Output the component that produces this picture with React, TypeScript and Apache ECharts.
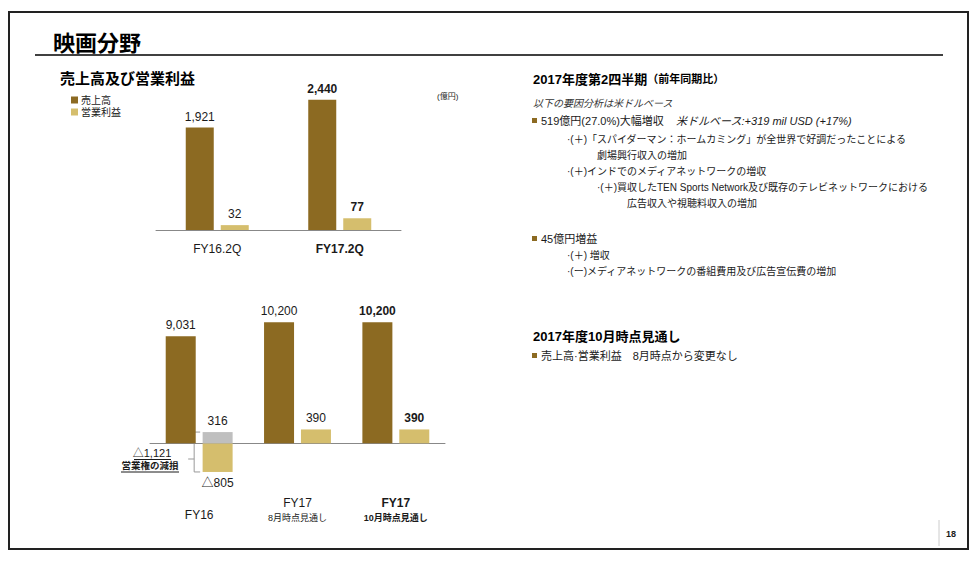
import React, { useEffect, useRef } from "react";
import * as echarts from "echarts";

// ---- data ----
const topCategories = ["FY16.2Q", "FY17.2Q"];
const topRevenue = [1921, 2440];
const topProfit = [32, 77];

const fyCategories = ["FY16", "FY17\n8月時点見通し", "FY17\n10月時点見通し"];
const fyRevenue = [9031, 10200, 10200];
const fyProfit = [-805, 390, 390];
const fyProfitBeforeImpairment = [316, null, null];
const impairmentLoss = 1121;

const legendNames = ["売上高", "営業利益"];

const FONT = "'Liberation Sans', Arial, 'Noto Sans CJK JP', sans-serif";
const BROWN = "#8C6A22";
const TAN = "#D5BE6D";
const GRAY = "#BFBFBF";
const TEXT = "#1a1a1a";

const fmt = (v: number) => (v < 0 ? "△" + Math.abs(v).toLocaleString("en-US") : v.toLocaleString("en-US"));

const withBoldLast = (arr: (number | null)[]) =>
  arr.map((v, i) =>
    v === null
      ? "-"
      : i === arr.length - 1
      ? { value: v, label: { fontWeight: "bold" } }
      : v
  );

export default function App() {
  const ref = useRef<HTMLDivElement>(null);
  useEffect(() => {
    if (!ref.current) return;
    const chart = echarts.init(ref.current, null, { renderer: "svg" });
    const labelBase = {
      show: true,
      position: "top",
      distance: 5,
      fontSize: 12,
      color: TEXT,
      fontFamily: FONT,
      formatter: (p: any) => fmt(p.value),
    };
    const option: any = {
      animation: false,
      backgroundColor: "#fff",
      textStyle: { fontFamily: FONT },
      legend: {
        data: legendNames,
        orient: "vertical",
        left: 66,
        top: 90,
        itemWidth: 7,
        itemHeight: 7,
        itemGap: 2,
        icon: "rect",
        selectedMode: false,
        textStyle: { fontSize: 10, color: TEXT, fontFamily: FONT, padding: [0, 0, 0, -2] },
      },
      grid: [
        { left: 156, width: 245, top: 70, height: 160 },
        { left: 150, width: 295, top: 301, height: 177.9 },
      ],
      xAxis: [
        {
          type: "category",
          gridIndex: 0,
          data: topCategories,
          axisLine: { lineStyle: { color: "#888", width: 1 } },
          axisTick: { show: false },
          axisLabel: {
            margin: 13,
            fontSize: 12,
            color: TEXT,
            fontFamily: FONT,
            formatter: (v: string, i: number) => (i === topCategories.length - 1 ? "{b|" + v + "}" : "{a|" + v + "}"),
            rich: {
              a: { fontSize: 12, color: TEXT, fontFamily: FONT },
              b: { fontSize: 12, color: TEXT, fontFamily: FONT, fontWeight: "bold" },
            },
          },
        },
        {
          type: "category",
          gridIndex: 1,
          data: fyCategories,
          axisLine: { onZero: true, lineStyle: { color: "#888", width: 1 } },
          axisTick: { show: false },
          axisLabel: {
            margin: 16.4,
            interval: 0,
            fontFamily: FONT,
            formatter: (v: string, i: number) => {
              const parts = v.split("\n");
              const bold = i === fyCategories.length - 1;
              if (parts.length === 1) return "{single|" + parts[0] + "}";
              return (bold ? "{ab|" : "{a|") + parts[0] + "}\n" + (bold ? "{sb|" : "{s|") + parts[1] + "}";
            },
            rich: {
              single: { fontSize: 12, lineHeight: 40, color: TEXT, fontFamily: FONT },
              a: { fontSize: 12, lineHeight: 16, color: TEXT, fontFamily: FONT },
              ab: { fontSize: 12, lineHeight: 16, color: TEXT, fontFamily: FONT, fontWeight: "bold" },
              s: { fontSize: 9, lineHeight: 14, color: TEXT, fontFamily: FONT },
              sb: { fontSize: 9, lineHeight: 14, color: TEXT, fontFamily: FONT, fontWeight: "bold" },
            },
          },
        },
      ],
      yAxis: [
        { type: "value", gridIndex: 0, min: 0, max: 3000, show: false, splitLine: { show: false } },
        { type: "value", gridIndex: 0, min: 0, max: 1050, show: false, splitLine: { show: false } },
        { type: "value", gridIndex: 1, min: -3000, max: 12000, show: false, splitLine: { show: false } },
        { type: "value", gridIndex: 1, min: -1000, max: 4000, show: false, splitLine: { show: false } },
      ],
      series: [
        {
          name: "売上高",
          type: "bar",
          xAxisIndex: 0,
          yAxisIndex: 0,
          data: withBoldLast(topRevenue),
          barWidth: 28,
          barGap: "25%",
          itemStyle: { color: BROWN },
          label: labelBase,
        },
        {
          name: "営業利益",
          type: "bar",
          xAxisIndex: 0,
          yAxisIndex: 1,
          data: withBoldLast(topProfit),
          barWidth: 28,
          barGap: "25%",
          itemStyle: { color: TAN },
          label: labelBase,
        },
        {
          name: "売上高",
          type: "bar",
          xAxisIndex: 1,
          yAxisIndex: 2,
          data: withBoldLast(fyRevenue),
          barWidth: 30,
          barGap: "23%",
          itemStyle: { color: BROWN },
          label: labelBase,
        },
        {
          name: "営業利益",
          type: "bar",
          xAxisIndex: 1,
          yAxisIndex: 3,
          stack: "op",
          data: fyProfit.map((v, i) => {
            const item: any = { value: v, label: { position: v < 0 ? "bottom" : "top" } };
            if (i === fyProfit.length - 1) item.label.fontWeight = "bold";
            return item;
          }),
          barWidth: 30,
          barGap: "23%",
          itemStyle: { color: TAN },
          label: labelBase,
        },
        {
          name: "減損前営業利益",
          type: "bar",
          xAxisIndex: 1,
          yAxisIndex: 3,
          stack: "op",
          data: fyProfitBeforeImpairment.map((v) => (v === null ? "-" : v)),
          barWidth: 30,
          barGap: "23%",
          itemStyle: { color: GRAY },
          label: labelBase,
        },
      ],
    };
    chart.setOption(option);

    // annotation for impairment bracket
    const yTop = chart.convertToPixel({ yAxisIndex: 3 } as any, fyProfitBeforeImpairment[0] as number) as number;
    const yBot = chart.convertToPixel({ yAxisIndex: 3 } as any, fyProfit[0]) as number;
    const cx = chart.convertToPixel({ xAxisIndex: 1 } as any, 0 as any) as number;
    const bx = cx - 5;

    const t = (x: number, y: number, text: string, fontSize: number, extra: any = {}) => ({
      type: "text",
      x,
      y,
      style: { text, fontSize, fill: TEXT, fontFamily: FONT, verticalAlign: "middle", align: "left", ...extra },
    });
    const bullet = (y: number) => ({ type: "rect", shape: { x: 532, y: y - 3, width: 5, height: 5 }, style: { fill: BROWN } });

    const graphic: any[] = [
      { type: "rect", shape: { x: 9, y: 12, width: 959, height: 537 }, style: { fill: "none", stroke: "#222", lineWidth: 2 } },
      t(53, 43, "映画分野", 22, { fontWeight: "bold", fill: "#000" }),
      { type: "line", shape: { x1: 35, y1: 55, x2: 943, y2: 55 }, style: { stroke: "#000", lineWidth: 1.5 } },
      t(60, 78, "売上高及び営業利益", 15, { fontWeight: "bold", fill: "#000" }),
      t(437, 96, "(億円)", 8),
      // bracket
      {
        type: "polyline",
        shape: { points: [[cx + 1, yTop], [bx, yTop], [bx, yBot], [cx + 1, yBot]] },
        style: { stroke: "#999", lineWidth: 1, fill: "none" },
      },
      { type: "line", shape: { x1: bx - 6, y1: 459, x2: bx, y2: 459 }, style: { stroke: "#999", lineWidth: 1 } },
      t(152, 453, "△" + impairmentLoss.toLocaleString("en-US"), 11, { align: "center" }),
      { type: "line", shape: { x1: 134, y1: 459.5, x2: 171, y2: 459.5 }, style: { stroke: TEXT, lineWidth: 1 } },
      t(150, 465.5, "営業権の減損", 9.5, { align: "center", fontWeight: "bold" }),
      { type: "line", shape: { x1: 121, y1: 472, x2: 179, y2: 472 }, style: { stroke: TEXT, lineWidth: 1 } },
      // right column
      {
        type: "text",
        x: 533,
        y: 79,
        style: {
          text: "{a|2017年度第2四半期}{b|（前年同期比）}",
          verticalAlign: "middle",
          rich: {
            a: { fontSize: 13, fontWeight: "bold", fill: "#000", fontFamily: FONT },
            b: { fontSize: 11, fontWeight: "bold", fill: "#000", fontFamily: FONT },
          },
        },
      },
      t(533, 103, "以下の要因分析は米ドルベース", 10, { fontStyle: "italic", fill: "#333" }),
      bullet(121),
      {
        type: "text",
        x: 541,
        y: 121,
        style: {
          text: "{n|519億円(27.0%)大幅増収}{n|    }{i|米ドルベース:+319 mil USD (+17%)}",
          verticalAlign: "middle",
          rich: {
            n: { fontSize: 11, fill: TEXT, fontFamily: FONT },
            i: { fontSize: 11, fill: TEXT, fontFamily: FONT, fontStyle: "italic" },
          },
        },
      },
      t(567, 139, "·(＋)「スパイダーマン：ホームカミング」が全世界で好調だったことによる", 10),
      t(597, 155, "劇場興行収入の増加", 10),
      t(567, 171, "·(＋)インドでのメディアネットワークの増収", 10),
      t(597, 187, "·(＋)買収したTEN Sports Network及び既存のテレビネットワークにおける", 10),
      t(627, 203, "広告収入や視聴料収入の増加", 10),
      bullet(239),
      t(541, 239, "45億円増益", 11),
      t(567, 255, "·(＋) 増収", 10),
      t(567, 271, "·(ー)メディアネットワークの番組費用及び広告宣伝費の増加", 10),
      t(533, 336, "2017年度10月時点見通し", 13, { fontWeight: "bold", fill: "#000" }),
      bullet(356),
      t(541, 356, "売上高·営業利益　8月時点から変更なし", 11),
      // page number
      { type: "line", shape: { x1: 939, y1: 520, x2: 939, y2: 546 }, style: { stroke: "#ccc", lineWidth: 1 } },
      t(946, 534, "18", 9, { fontWeight: "bold" }),
    ];
    chart.setOption({ graphic });
    return () => chart.dispose();
  }, []);
  return <div ref={ref} style={{ position: "fixed", left: 0, top: 0, width: 980, height: 563 }} />;
}
